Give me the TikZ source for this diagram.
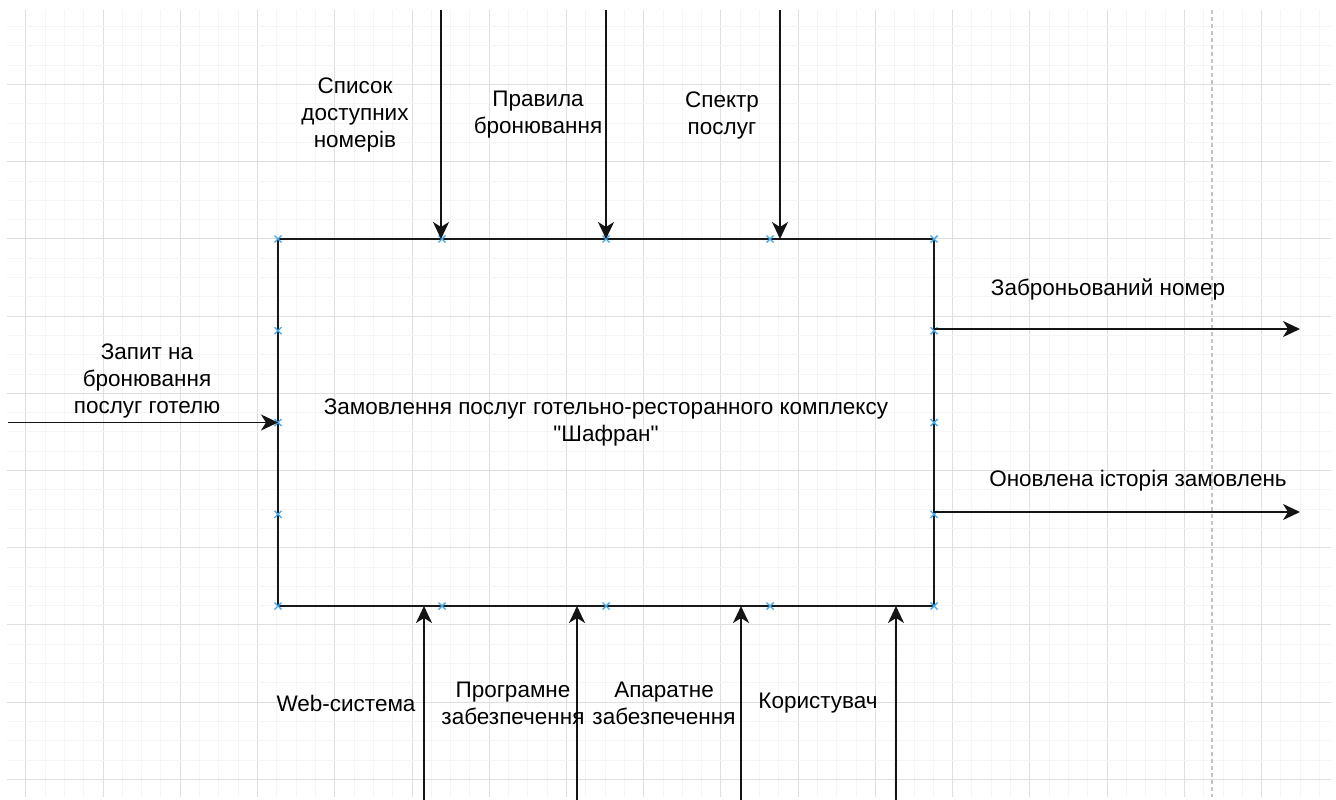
\documentclass[tikz,border=0pt]{standalone}
\usepackage{fontspec}
\setmainfont{Liberation Sans}[Ligatures=TeXOff]
\usetikzlibrary{arrows.meta,calc}
\definecolor{gridmajor}{HTML}{DFDFDF}
\definecolor{gridminor}{HTML}{F5F5F5}
\definecolor{pagebreak}{HTML}{C4C4C4}
\definecolor{handle}{HTML}{3FA9F5}
\tikzset{
  flow/.style={line width=1.9pt, draw=black!92, -{Stealth[length=17pt,width=16pt,inset=5pt]}},
  lbl/.style={font=\fontsize{22.5}{27}\selectfont, align=center, inner sep=0pt, text=black},
  func/.style={draw=black!90, line width=2pt, minimum width=656pt, minimum height=367pt,
    inner sep=0pt, outer sep=0pt, font=\fontsize{22.5}{27}\selectfont, align=center},
}
\newcommand{\handlecross}[1]{%
  \draw[handle, line width=1.4pt] ($#1+(-3.5,-3.5)$) -- ($#1+(3.5,3.5)$) ($#1+(-3.5,3.5)$) -- ($#1+(3.5,-3.5)$);}
\begin{document}
\begin{tikzpicture}[x=1pt, y=-1pt]
\useasboundingbox (0,0) rectangle (1336,800);
\fill[white] (0,0) rectangle (1336,800);

% background grid, snapped to whole units so every line is one unit wide
\begin{scope}
\clip (6.5,10) rectangle (1331,797);
\foreach \k in {1,...,69} {
  \pgfmathsetmacro{\gx}{round(6+19.31*\k)+0.5}
  \pgfmathtruncatemacro{\m}{mod(\k-1,4)}
  \ifnum\m=0
    \draw[gridmajor, line width=1pt] (\gx,10) -- (\gx,797);
  \else
    \draw[gridminor, line width=1pt] (\gx,10) -- (\gx,797);
  \fi
}
\foreach \k in {1,...,41} {
  \pgfmathsetmacro{\gy}{round(6.8+19.3*\k)+0.5}
  \pgfmathtruncatemacro{\m}{mod(\k,4)}
  \ifnum\m=0
    \draw[gridmajor, line width=1pt] (6.5,\gy) -- (1331,\gy);
  \else
    \draw[gridminor, line width=1pt] (6.5,\gy) -- (1331,\gy);
  \fi
}
\end{scope}
% page break guide
\draw[pagebreak, line width=1.2pt, dash pattern=on 4pt off 3pt] (1212,10) -- (1212,797);

% the function block
\node[func] (fn) at (606,422.5) {Замовлення послуг готельно-ресторанного комплексу\\"Шафран"};

% connection handles on the block outline
\foreach \hx in {278,442,606,770,934} {
  \handlecross{(\hx,239)}
  \handlecross{(\hx,606)}
}
\foreach \hy in {330.75,422.5,514.25} {
  \handlecross{(278,\hy)}
  \handlecross{(934,\hy)}
}

% free ends of the connectors
\coordinate (c1) at (441,10);
\coordinate (c2) at (606,10);
\coordinate (c3) at (780,10);
\coordinate (in1) at (8,422.5);
\coordinate (o1) at (1300,329);
\coordinate (o2) at (1300,512);
\coordinate (m1) at (424,800);
\coordinate (m2) at (577,800);
\coordinate (m3) at (741,800);
\coordinate (m4) at (896,800);

% controls
\draw[flow] (c1) -- (c1 |- fn.north);
\draw[flow] (c2) -- (c2 |- fn.north);
\draw[flow] (c3) -- (c3 |- fn.north);
% input
\draw[flow] (in1) -- (in1 -| fn.west);
% outputs
\draw[flow] (fn.east |- o1) -- (o1);
\draw[flow] (fn.east |- o2) -- (o2);
% mechanisms
\draw[flow] (m1) -- (m1 |- fn.south);
\draw[flow] (m2) -- (m2 |- fn.south);
\draw[flow] (m3) -- (m3 |- fn.south);
\draw[flow] (m4) -- (m4 |- fn.south);

% labels
\node[lbl] (lc1) at (355,115) {Список\\доступних\\номерів};
\node[lbl] (lc2) at (538,115) {Правила\\бронювання};
\node[lbl] (lc3) at (722,115) {Спектр\\послуг};
\node[lbl] (li1) at (147,381) {Запит на\\бронювання\\послуг готелю};
\node[lbl] (lo1) at (1108,289) {Заброньований номер};
\node[lbl] (lo2) at (1138,481) {Оновлена історія замовлень};
\node[lbl] (lm1) at (346,703) {Web-система};
\node[lbl] (lm2) at (513,703.5) {Програмне\\забезпечення};
\node[lbl] (lm3) at (664,703.5) {Апаратне\\забезпечення};
\node[lbl] (lm4) at (818,703) {Користувач};
\end{tikzpicture}
\end{document}
